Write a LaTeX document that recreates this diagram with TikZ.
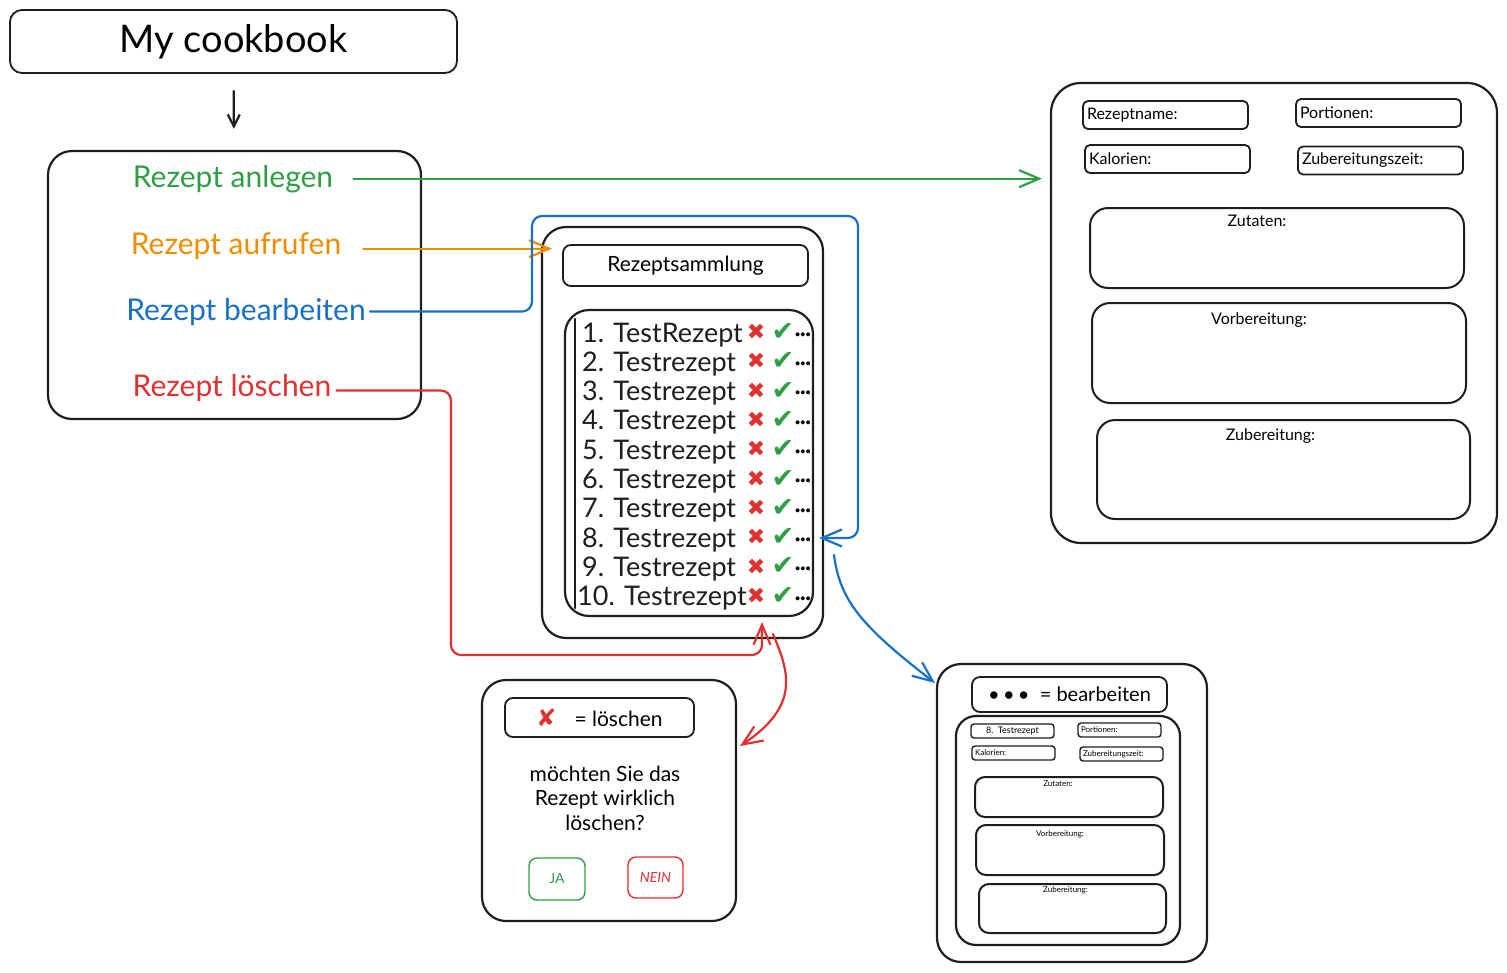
\documentclass[tikz,border=0pt]{standalone}
\usepackage{fontspec}
\setmainfont{Lato}
\newfontfamily\symf{DejaVu Sans}
\usetikzlibrary{arrows.meta,positioning}
\definecolor{exgreen}{HTML}{2F9E44}
\definecolor{exorange}{HTML}{F08C00}
\definecolor{exblue}{HTML}{1971C2}
\definecolor{exred}{HTML}{E03131}
\definecolor{exblack}{HTML}{1E1E1E}
\begin{document}
\begin{tikzpicture}[x=1pt,y=-1pt,line cap=round,line join=round,
  bigbox/.style={draw=exblack,line width=2.2pt,rounded corners=24pt,inner sep=0pt},
  tagbox/.style={draw=exblack,line width=1.8pt,rounded corners=8pt,inner sep=0pt},
  field/.style={draw=exblack,line width=1.8pt,rounded corners=5pt,inner xsep=4pt,inner ysep=0pt,text width=157pt,minimum height=28pt,align=left,font=\fontsize{16}{19}\selectfont},
  tinyfield/.style={draw=exblack,line width=1.4pt,rounded corners=3pt,inner xsep=3pt,inner ysep=0pt,text width=77pt,minimum height=14pt,align=left,font=\fontsize{8}{9}\selectfont},
  menutxt/.style={anchor=base,inner sep=0pt,font=\fontsize{30}{36}\selectfont},
  rowtxt/.style={anchor=base west,inner sep=0pt,text=exblack,font=\fontsize{27}{32}\selectfont},
  xmark/.style={inner sep=0pt,text=exred,font=\symf\fontsize{22}{24}\selectfont},
  cmark/.style={inner sep=0pt,text=exgreen,font=\symf\fontsize{27}{29}\selectfont},
  dots/.style={inner sep=0pt,font=\bfseries\fontsize{9}{10}\selectfont},
  lbl/.style={inner sep=0pt,font=\fontsize{16}{19}\selectfont},
  tinylbl/.style={inner sep=0pt,font=\fontsize{8}{9}\selectfont},
  btn/.style={line width=1.4pt,rounded corners=8pt,minimum width=56pt,minimum height=42pt,font=\fontsize{14}{16}\selectfont},
  conn/.style={line width=2.2pt,-{Straight Barb[length=20pt,width=17pt]}}]
\path[fill=white,use as bounding box] (0,0) rectangle (1507,972);
% start and menu
\node[tagbox,rounded corners=12pt,minimum width=447pt,minimum height=63pt,font=\fontsize{38}{44}\selectfont] (title) at (233.5,41.5) {My cookbook};
\node[bigbox,minimum width=373pt,minimum height=268pt] (menu) at (234.5,285) {};
\node[menutxt,text=exgreen] (anlegen) at (233,187) {Rezept anlegen};
\node[menutxt,text=exorange] (aufrufen) at (236,254) {Rezept aufrufen};
\node[menutxt,text=exblue] (bearb) at (246,320) {Rezept bearbeiten};
\node[menutxt,text=exred] (loesch) at (232,396) {Rezept löschen};
% Rezeptsammlung
\node[bigbox,minimum width=281pt,minimum height=411pt] (samml) at (682.5,432.5) {};
\node[tagbox,minimum width=245pt,minimum height=41pt,font=\fontsize{21}{25}\selectfont] (sammlhead) at (685.5,265.5) {Rezeptsammlung};
\node[bigbox,minimum width=248pt,minimum height=306pt] (liste) at (689,463) {};
\draw[line width=2.6pt,exblack] (575,319) -- (575,608);
\node[rowtxt] (row1) at (582,342) {1. TestRezept};
\foreach \i in {2,...,10}{
  \pgfmathsetmacro{\rx}{ifthenelse(\i==10,577,582)}
  \node[rowtxt] (row\i) at (\rx,{342+(\i-1)*29.3}) {\i. Testrezept};
}
\foreach \i in {1,...,10}{
  \node[xmark] (del\i) at (756,{332+(\i-1)*29.3}) {✖};
  \node[cmark] (ok\i) at (783,{332+(\i-1)*29.3}) {✔};
  \node[dots] (edit\i) at (803,{335+(\i-1)*29.3}) {•••};
}
% Formular
\node[bigbox,rounded corners=30pt,minimum width=446pt,minimum height=460pt] (form) at (1274,313) {};
\node[field] (fname) at (1165.5,115) {Rezeptname:};
\node[field] (fport) at (1378.5,113) {Portionen:};
\node[field] (fkal) at (1167.5,159) {Kalorien:};
\node[field] (fzeit) at (1380.5,160.5) {Zubereitungszeit:};
\node[bigbox,rounded corners=18pt,line width=2pt,minimum width=374pt,minimum height=80pt] (fzut) at (1277,248) {};
\node[lbl,below=8pt of fzut.north,xshift=-20pt] (lzut) {Zutaten:};
\node[bigbox,rounded corners=18pt,line width=2pt,minimum width=374pt,minimum height=100pt] (fvor) at (1279,353) {};
\node[lbl,below=11pt of fvor.north,xshift=-20pt] (lvor) {Vorbereitung:};
\node[bigbox,rounded corners=18pt,line width=2pt,minimum width=373pt,minimum height=99pt] (fzub) at (1283.5,469.5) {};
\node[lbl,below=10pt of fzub.north,xshift=-13pt] (lzub) {Zubereitung:};
% loeschen
\node[bigbox,minimum width=254pt,minimum height=241pt] (dlg) at (609,800.5) {};
\node[tagbox,minimum width=189pt,minimum height=39pt,font=\fontsize{21}{25}\selectfont] (dlghead) at (599.5,717.5) {{\symf\color{exred}\fontsize{24}{26}\selectfont ✘}\hspace{18pt}= löschen};
\node[align=center,font=\fontsize{21}{24.5}\selectfont] (frage) at (605,798) {möchten Sie das\\Rezept wirklich\\löschen?};
\node[btn,draw=exgreen,text=exgreen] (ja) at (557,879) {JA};
\node[btn,draw=exred,text=exred,font=\itshape\fontsize{14}{16}\selectfont,minimum width=55pt,minimum height=41pt] (nein) at (655.5,877.5) {NEIN};
% bearbeiten
\node[bigbox,minimum width=270pt,minimum height=298pt] (edt) at (1072,813) {};
\node[tagbox,minimum width=195pt,minimum height=35pt,font=\fontsize{20}{24}\selectfont] (edthead) at (1069.5,694.5) {•\,•\,•\ \ = bearbeiten};
\node[bigbox,rounded corners=20pt,minimum width=224pt,minimum height=229pt] (edtin) at (1068,830.5) {};
\node[tinyfield,align=center,font=\fontsize{9}{10}\selectfont] (ename) at (1012.5,731) {8. Testrezept};
\node[tinyfield] (eport) at (1119.5,730) {Portionen:};
\node[tinyfield] (ekal) at (1013.5,753) {Kalorien:};
\node[tinyfield] (ezeit) at (1121.5,754) {Zubereitungszeit:};
\node[bigbox,rounded corners=10pt,line width=2pt,minimum width=188pt,minimum height=40pt] (ezut) at (1069,797) {};
\node[tinylbl,below=5pt of ezut.north,xshift=-11pt] (lezut) {Zutaten:};
\node[bigbox,rounded corners=10pt,line width=2pt,minimum width=188pt,minimum height=50pt] (evor) at (1070,850) {};
\node[tinylbl,below=6pt of evor.north,xshift=-10pt] (levor) {Vorbereitung:};
\node[bigbox,rounded corners=10pt,line width=2pt,minimum width=187pt,minimum height=49pt] (ezub) at (1072.5,908.5) {};
\node[tinylbl,below=3pt of ezub.north,xshift=-7pt] (lezub) {Zubereitung:};
% arrows
\draw[conn,exblack,shorten <=17pt,shorten >=21pt,-{Straight Barb[length=12pt,width=12pt]}] (title) -- (menu);
\draw[conn,exgreen,shorten <=20pt,shorten >=8pt] (anlegen.east) -- (anlegen.east -| form.west);
\draw[conn,exorange,shorten <=22pt,shorten >=-11pt] ([yshift=-3pt]aufrufen.east) -- ([yshift=-3pt]aufrufen.east -| samml.west);
\coordinate (bup) at (532,216);
\coordinate (bdown) at (858,538);
\draw[conn,exblue,rounded corners=10pt,shorten <=4pt] (bearb.east) -| (bup) -| (bdown) -- ([xshift=5pt]liste.east |- bdown);
\coordinate (rlow) at (451,655);
\coordinate (rtop) at (762,622);
\draw[conn,exred,rounded corners=10pt,shorten <=5pt] ([yshift=-3pt]loesch.east) -| (rlow) -| (rtop);
\coordinate (rcs) at (773,634);
\coordinate (rce) at (740,746);
\draw[conn,exred] (rcs) .. controls (788,670) and (802,705) .. (rce);
\coordinate (bcs) at (834,555);
\coordinate (bce) at (935,683);
\draw[conn,exblue] (bcs) .. controls (840,600) and (860,625) .. (bce);
\end{tikzpicture}
\end{document}
